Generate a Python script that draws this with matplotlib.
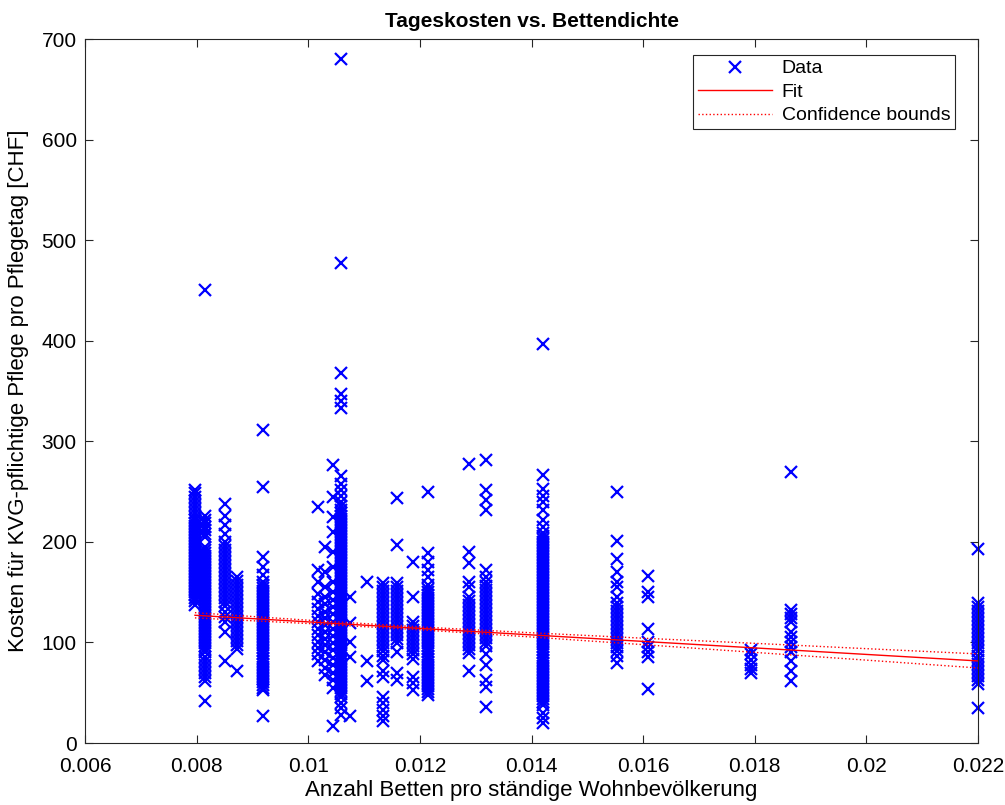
import matplotlib
matplotlib.use("Agg")
from matplotlib import pyplot as plt

plt.rcParams['font.family'] = ['Liberation Sans', 'DejaVu Sans']

# Bettendichte (x) per group of hospitals and the daily costs
col_a_x, col_a = 0.00797, [252, 249, 245, 241, 237, 233, 229, 225, 222, 219, 216, 213, 210, 207, 204, 201, 198, 195,
                           192, 189, 186, 183, 180, 177, 174, 171, 168, 165, 162, 159, 156, 153, 150, 147, 144, 141, 137]
col_b_x, col_b = 0.00815, [450, 226, 222, 219, 215, 212, 208, 205, 195, 192, 189, 186, 183, 180, 177, 174, 171, 168,
                           165, 162, 159, 156, 153, 150, 147, 144, 141, 138, 135, 132, 129, 126, 123, 120, 117, 114,
                           111, 108, 105, 102, 99, 96, 93, 90, 86, 82, 78, 74, 70, 66, 62, 42]
col_c_x, col_c = 0.00851, [238, 226, 217, 208, 200, 196, 192, 188, 184, 180, 176, 172, 168, 164, 160, 156, 152, 148,
                           144, 140, 136, 130, 125, 120, 110, 82]
col_d_x, col_d = 0.00872, [165, 161, 157, 153, 149, 145, 141, 137, 133, 129, 125, 121, 117, 113, 109, 105, 101, 97, 93, 72]
col_e_x, col_e = 0.00919, [311, 255, 185, 175, 167, 160, 157, 154, 151, 148, 145, 142, 139, 136, 133, 130, 127, 124,
                           121, 118, 115, 112, 109, 106, 103, 100, 97, 94, 91, 88, 85, 82, 79, 76, 73, 70, 67, 64, 61,
                           58, 55, 53, 27]
col_f1_x, col_f1 = 0.01017, [235, 172, 160, 148, 140, 133, 126, 120, 113, 107, 100, 94, 88, 82]
col_f2_x, col_f2 = 0.01030, [195, 170, 155, 145, 138, 130, 124, 117, 110, 103, 97, 90, 83, 75, 68]
col_f3_x, col_f3 = 0.01044, [276, 245, 225, 210, 190, 175, 160, 150, 142, 135, 128, 120, 113, 106, 99, 92, 85, 78, 70,
                             63, 55, 17]
col_g_x, col_g = 0.01059, [680, 477, 368, 347, 340, 333, 265, 258, 252, 246, 240, 236, 232, 229, 226, 223, 220, 217,
                           214, 211, 208, 205, 202, 199, 196, 193, 190, 187, 184, 181, 178, 175, 172, 169, 166, 163,
                           160, 157, 154, 151, 148, 145, 142, 139, 136, 133, 130, 127, 124, 121, 118, 115, 112, 109,
                           106, 103, 100, 97, 94, 91, 88, 85, 82, 79, 76, 73, 70, 67, 64, 61, 58, 55, 52, 49, 46, 40,
                           35, 28]
col_h_x, col_h = 0.01075, [145, 119, 100, 86, 27]
col_i_x, col_i = 0.01105, [160, 82, 62]
col_j_x, col_j = 0.01134, [159, 155, 151, 147, 143, 139, 135, 131, 127, 123, 119, 115, 111, 107, 103, 99, 95, 91, 87,
                           83, 72, 66, 46, 40, 33, 27, 22]
col_k_x, col_k = 0.01159, [244, 197, 159, 155, 151, 147, 143, 139, 135, 131, 127, 123, 119, 115, 111, 107, 103, 99, 90,
                           70, 63]
col_l_x, col_l = 0.01188, [180, 145, 120, 116, 112, 108, 104, 100, 96, 92, 88, 84, 66, 60, 53]
col_m_x, col_m = 0.01215, [250, 189, 180, 172, 165, 157, 153, 150, 147, 144, 141, 138, 135, 132, 129, 126, 123, 120,
                           117, 114, 111, 108, 105, 102, 99, 96, 93, 90, 87, 84, 81, 78, 75, 72, 69, 66, 63, 60, 57,
                           54, 51, 48]
col_n_x, col_n = 0.01288, [277, 190, 179, 160, 155, 145, 141, 137, 133, 129, 125, 121, 117, 113, 109, 105, 101, 97, 93,
                           89, 72]
col_o_x, col_o = 0.01318, [281, 252, 242, 232, 172, 165, 160, 156, 152, 148, 144, 140, 136, 132, 128, 124, 120, 116,
                           112, 108, 104, 100, 96, 88, 78, 63, 56, 36]
col_p_x, col_p = 0.01420, [397, 266, 253, 246, 240, 232, 222, 215, 209, 206, 203, 200, 197, 194, 191, 188, 185, 182,
                           179, 176, 173, 170, 167, 164, 161, 158, 155, 152, 149, 146, 143, 140, 137, 134, 131, 128,
                           125, 122, 119, 116, 113, 110, 107, 104, 101, 98, 95, 92, 89, 86, 83, 80, 77, 74, 71, 68, 65,
                           62, 59, 56, 53, 50, 47, 44, 41, 38, 30, 25, 20]
col_q_x, col_q = 0.01553, [250, 201, 183, 170, 160, 155, 145, 139, 135, 131, 127, 123, 119, 115, 111, 107, 103, 99, 95,
                           91, 87, 80]
col_r_x, col_r = 0.01609, [166, 150, 145, 113, 100, 95, 90, 86, 54]
col_s_x, col_s = 0.01793, [92, 88, 83, 78, 74, 70]
col_t_x, col_t = 0.01865, [269, 132, 128, 124, 120, 110, 105, 100, 95, 90, 82, 72, 62]
col_u_x, col_u = 0.02200, [193, 139, 135, 131, 127, 123, 119, 115, 111, 107, 103, 99, 95, 91, 87, 83, 79, 75, 71, 67,
                           63, 59, 35]

columns = [(col_a_x, col_a), (col_b_x, col_b), (col_c_x, col_c), (col_d_x, col_d), (col_e_x, col_e),
           (col_f1_x, col_f1), (col_f2_x, col_f2), (col_f3_x, col_f3), (col_g_x, col_g), (col_h_x, col_h),
           (col_i_x, col_i), (col_j_x, col_j), (col_k_x, col_k), (col_l_x, col_l), (col_m_x, col_m),
           (col_n_x, col_n), (col_o_x, col_o), (col_p_x, col_p), (col_q_x, col_q), (col_r_x, col_r),
           (col_s_x, col_s), (col_t_x, col_t), (col_u_x, col_u)]

# linear fit and its confidence bounds
fit_x = [0.00797, 0.022]
fit_y = [127.0, 81.6]
bound_x = [0.00797, 0.010, 0.012, 0.014, 0.016, 0.018, 0.020, 0.022]
bound_upper = [129.6, 122.1, 115.4, 109.6, 104.2, 99.1, 93.8, 88.6]
bound_lower = [124.4, 118.8, 112.6, 105.4, 97.8, 90.1, 82.4, 74.6]

xticks = [0.006, 0.008, 0.010, 0.012, 0.014, 0.016, 0.018, 0.020, 0.022]
xtick_labels = ["0.006", "0.008", "0.01", "0.012", "0.014", "0.016", "0.018", "0.02", "0.022"]
yticks = [0, 100, 200, 300, 400, 500, 600, 700]

data_x = [x for x, ys in columns for _ in ys]
data_y = [y for _, ys in columns for y in ys]

fig = plt.figure(figsize=(10.05, 8.05), dpi=100)
ax = fig.add_axes([85 / 1005, 62 / 805, 893 / 1005, 704 / 805])

ax.plot(data_x, data_y, linestyle='none', marker='x', color=(0, 0, 1), markersize=9,
        markeredgewidth=1.6, clip_on=False, label='Data', zorder=2)
ax.plot(fit_x, fit_y, color='red', linewidth=1.0, label='Fit', zorder=3)
ax.plot(bound_x, bound_upper, color='red', linestyle=':', linewidth=1.0, label='Confidence bounds', zorder=3)
ax.plot(bound_x, bound_lower, color='red', linestyle=':', linewidth=1.0, zorder=3)

ax.set_xlim(0.006, 0.022)
ax.set_ylim(0, 700)
ax.set_xticks(xticks)
ax.set_xticklabels(xtick_labels)
ax.set_yticks(yticks)

axis_color = (0.15, 0.15, 0.15)
for side in ax.spines.values():
    side.set_color(axis_color)
    side.set_linewidth(0.8)
ax.tick_params(direction='in', length=6, width=0.8, colors=axis_color, labelsize=15,
               top=True, right=True, labelcolor='black')
ax.tick_params(axis='x', pad=10)
ax.tick_params(axis='y', pad=6)

ax.set_title('Tageskosten vs. Bettendichte', fontsize=15, fontweight='bold', pad=9)
ax.set_xlabel('Anzahl Betten pro ständige Wohnbevölkerung', fontsize=16, labelpad=3)
ax.set_ylabel('Kosten für KVG-pflichtige Pflege pro Pflegetag [CHF]', fontsize=16, labelpad=9)

leg = ax.legend(loc='upper right', fontsize=14, numpoints=1, fancybox=False,
                framealpha=1, edgecolor=(0.15, 0.15, 0.15), borderpad=0.25, labelspacing=0.3,
                handlelength=3.8, handletextpad=0.5, borderaxespad=0)
leg.get_frame().set_linewidth(0.8)
# legend box corner placed where the reference has it (pixel offsets from the axes corner)
leg.set_bbox_to_anchor(((955 - 85) / 893, 1 - 16 / 704), transform=ax.transAxes)

fig.savefig('out.png', dpi=100)
